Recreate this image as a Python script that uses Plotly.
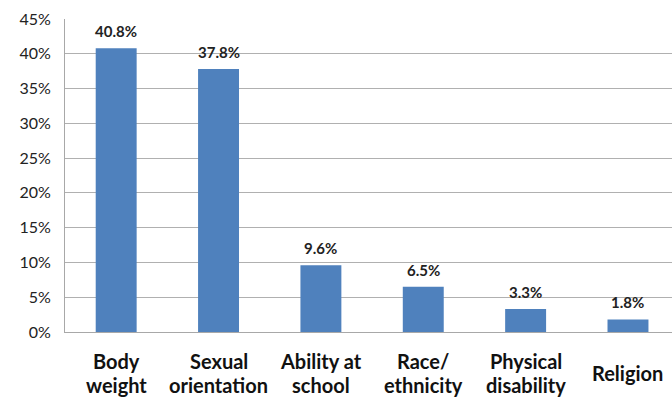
import plotly.graph_objects as go

categories = ["Body<br>weight", "Sexual<br>orientation", "Ability at<br>school",
              "Race/<br>ethnicity", "Physical<br>disability", "Religion"]
values = [40.8, 37.8, 9.6, 6.5, 3.3, 1.8]
value_labels = ["40.8%", "37.8%", "9.6%", "6.5%", "3.3%", "1.8%"]
y_ticks = [0, 5, 10, 15, 20, 25, 30, 35, 40, 45]
y_tick_labels = ["0%", "5%", "10%", "15%", "20%", "25%", "30%", "35%", "40%", "45%"]

xs = list(range(len(categories)))

fig = go.Figure(go.Bar(
    x=xs,
    y=values,
    width=0.4,
    marker=dict(color="#4F81BD", line=dict(width=0)),
))

# value labels above bars
for x, v, t in zip(xs, values, value_labels):
    fig.add_annotation(x=x, y=v, text="<b>%s</b>" % t, showarrow=False,
                       yshift=17, font=dict(family="Lato", size=15, color="#222222"))

# category labels (one annotation per line for exact spacing)
line_gap = 24
for x, c in zip(xs, categories):
    lines = c.split("<br>")
    n = len(lines)
    for i, ln in enumerate(lines):
        offset = 41 + (i - (n - 1) / 2) * line_gap
        fig.add_annotation(x=x, y=0, text="<b>%s</b>" % ln, showarrow=False,
                           yshift=-offset, yanchor="middle",
                           font=dict(family="Lato", size=20, color="#111111"))

fig.update_layout(
    width=672, height=398,
    margin=dict(l=65, r=0, t=19, b=66),
    plot_bgcolor="white", paper_bgcolor="white",
    showlegend=False,
    xaxis=dict(
        range=[-0.5, 5.43],
        tickvals=xs,
        showticklabels=False,
        showgrid=False, ticks="",
        showline=True, linecolor="#a8a8a8", linewidth=1,
        zeroline=False,
    ),
    yaxis=dict(
        range=[0, 45],
        tickvals=y_ticks, ticktext=y_tick_labels,
        tickfont=dict(family="Lato", size=16, color="#222222"),
        showgrid=True, gridcolor="#b0b0b0", gridwidth=1,
        showline=True, linecolor="#a8a8a8", linewidth=1,
        ticks="", ticklabelstandoff=10,
        zeroline=False,
    ),
)

fig.write_html("out.html")
